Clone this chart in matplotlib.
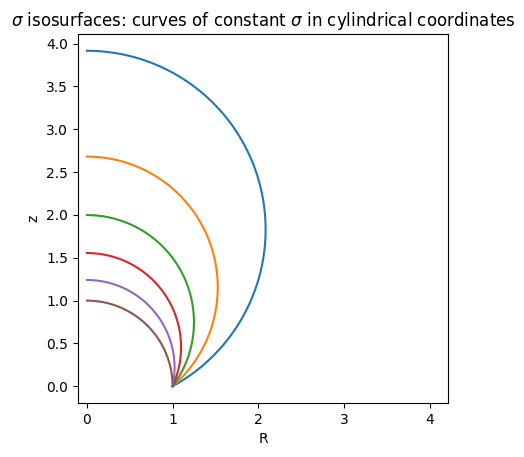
import numpy as np
import matplotlib
matplotlib.use("Agg")
import matplotlib.pyplot as plt

# sigma values of the isosurfaces (toroidal coordinates, focal ring at R=1)
sigma_vals = [0.5, 0.714, 0.928, 1.143, 1.357, 1.571]
a = 1.0
tau = np.linspace(0, 8, 800)

fig = plt.figure(figsize=(5.24, 4.57), dpi=100)
ax = fig.add_axes([78 / 524, 54 / 457, 370 / 524, 369 / 457])

rmax = 0
for s in sigma_vals:
    den = np.cosh(tau) - np.cos(s)
    R = a * np.sinh(tau) / den
    z = a * np.sin(s) / den
    ax.plot(R, z)
    rmax = max(rmax, R.max())

# equal scale, with the extra room put on the right side
y0, y1 = ax.get_ylim()
left = -0.05 * rmax
ax.set_xlim(left, left + (y1 - y0) * 370 / 369)
ax.set_yticks(np.arange(0, 4.01, 0.5))
ax.set_xlabel('R')
ax.set_ylabel('z')
ax.set_title(r'$\sigma$ isosurfaces: curves of constant $\sigma$ in cylindrical coordinates')

fig.savefig('out.png', dpi=100)
